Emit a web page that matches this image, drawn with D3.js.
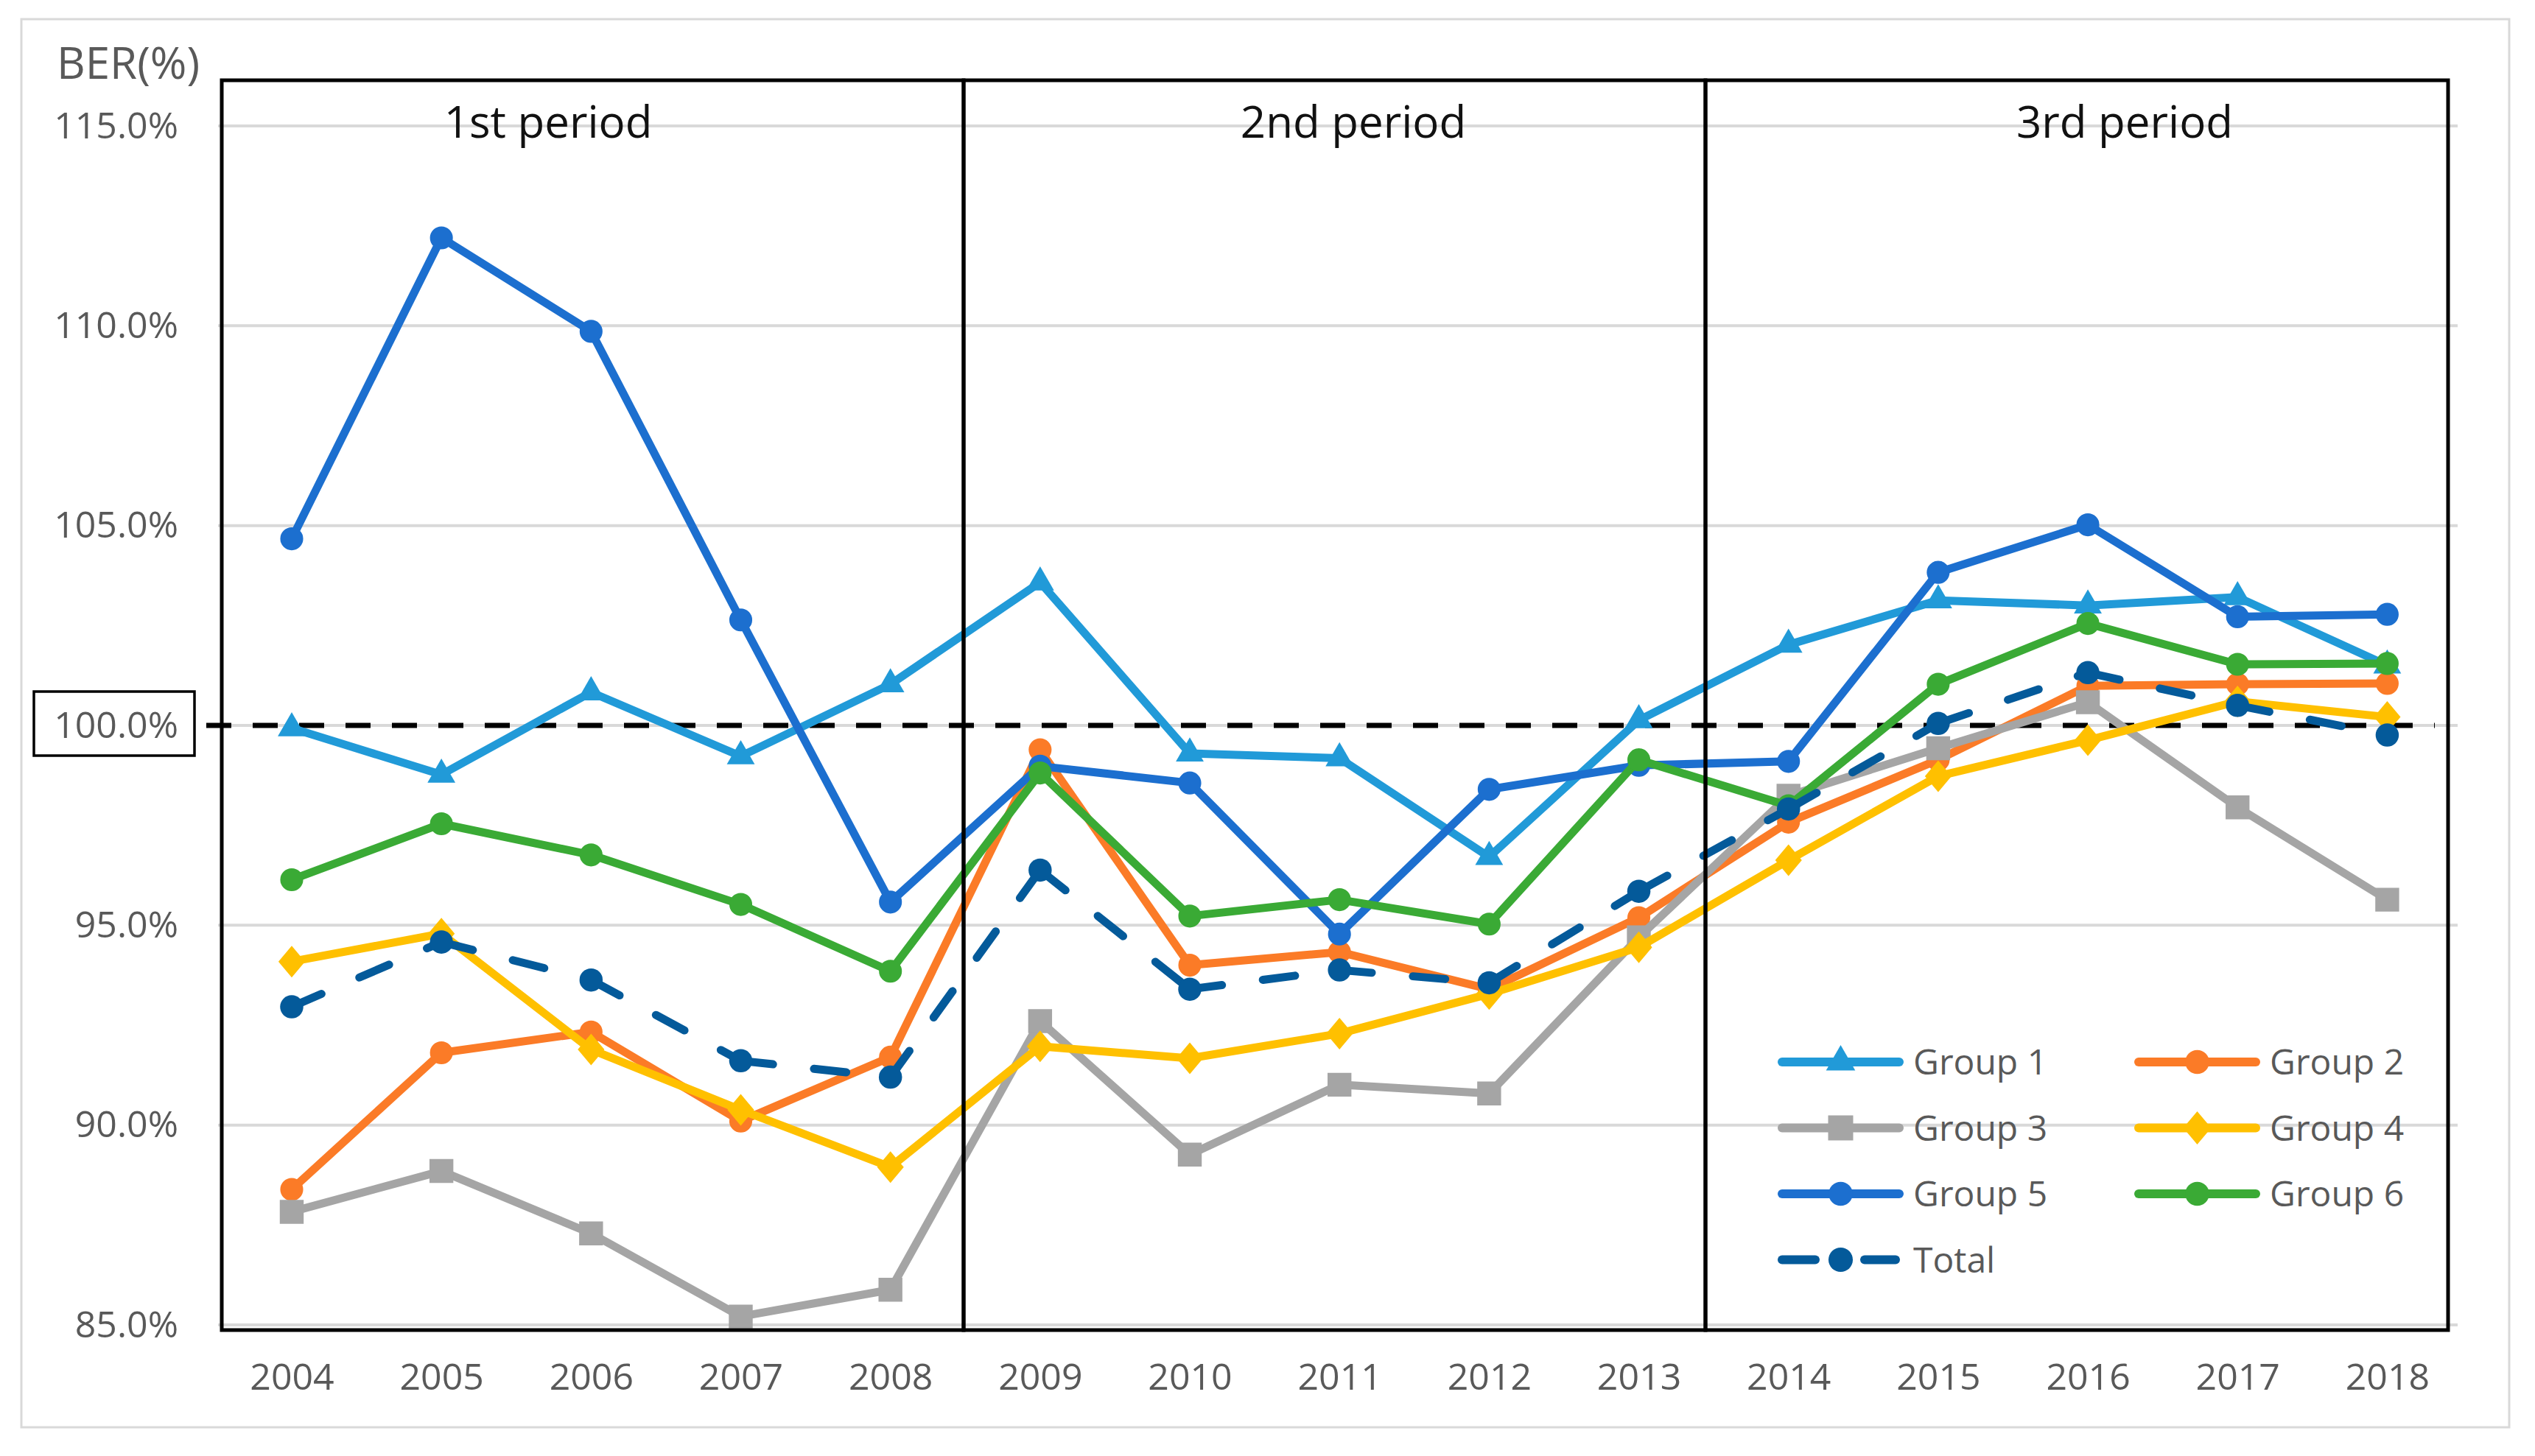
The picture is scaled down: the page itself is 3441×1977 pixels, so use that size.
<!DOCTYPE html>
<html>
<head>
<meta charset="utf-8">
<script src="https://cdn.jsdelivr.net/npm/d3@7"></script>
<style>
  html, body { margin: 0; padding: 0; background: #ffffff; }
  svg { display: block; }
  text { font-family: "Open Sans", "Noto Sans", sans-serif; }
</style>
</head>
<body>
<script>
// ---------------- DATA ----------------
const years = [2004, 2005, 2006, 2007, 2008, 2009, 2010, 2011, 2012, 2013, 2014, 2015, 2016, 2017, 2018];
const group1 = [99.93, 98.77, 100.83, 99.23, 101.03, 103.58, 99.30, 99.18, 96.71, 100.13, 102.02, 103.13, 103.00, 103.21, 101.50];
const group2 = [88.39, 91.81, 92.33, 90.10, 91.70, 99.39, 94.00, 94.33, 93.40, 95.19, 97.58, 99.14, 100.99, 101.03, 101.05];
const group3 = [87.83, 88.85, 87.29, 85.21, 85.88, 92.60, 89.26, 91.01, 90.79, 94.70, 98.24, 99.43, 100.58, 97.95, 95.64];
const group4 = [94.09, 94.79, 91.89, 90.38, 88.95, 91.97, 91.67, 92.29, 93.28, 94.45, 96.63, 98.73, 99.63, 100.60, 100.21];
const group5 = [104.67, 112.20, 109.86, 102.64, 95.58, 98.98, 98.56, 94.78, 98.40, 99.00, 99.10, 103.83, 105.02, 102.72, 102.78];
const group6 = [96.14, 97.54, 96.76, 95.52, 93.85, 98.81, 95.23, 95.64, 95.03, 99.14, 97.99, 101.03, 102.55, 101.53, 101.55];
const total  = [92.96, 94.58, 93.63, 91.61, 91.20, 96.38, 93.40, 93.88, 93.56, 95.85, 97.91, 100.05, 101.32, 100.50, 99.76];
const seriesNames = ["Group 1", "Group 2", "Group 3", "Group 4", "Group 5", "Group 6", "Total"];
const yTicks = [85, 90, 95, 100, 105, 110, 115];
const periodLabels = ["1st period", "2nd period", "3rd period"];
const yAxisTitle = "BER(%)";
const referenceValue = 100;

// ---------------- STYLE / LAYOUT ----------------
const W = 3441, H = 1977;
const colors = ["#219ad8", "#fb7b27", "#a5a5a5", "#ffc000", "#1c6fcf", "#3aaa35", "#045a9a"];
const seriesValues = [group1, group2, group3, group4, group5, group6, total];

const customDiamond = {
  draw(ctx, size) {
    const h = Math.sqrt(size) * 0.78, w = h * 0.84;
    ctx.moveTo(0, -h); ctx.lineTo(w, 0); ctx.lineTo(0, h); ctx.lineTo(-w, 0); ctx.closePath();
  }
};
const markerTypes = [d3.symbolTriangle, d3.symbolCircle, d3.symbolSquare, customDiamond, d3.symbolCircle, d3.symbolCircle, d3.symbolCircle];
const markerSizes = [620, 760, 1050, 760, 760, 760, 780];

const svg = d3.select("body").append("svg")
  .attr("width", W).attr("height", H).attr("viewBox", `0 0 ${W} ${H}`);

svg.append("rect").attr("width", W).attr("height", H).attr("fill", "#ffffff");
// outer chart border
svg.append("rect").attr("x", 29).attr("y", 26).attr("width", 3377).attr("height", 1912)
  .attr("fill", "none").attr("stroke", "#d9d9d9").attr("stroke-width", 3);

const x = d3.scalePoint().domain(years).range([294.4, 3342]).padding(0.5);
const y = d3.scaleLinear().domain([85, 115]).range([1799, 171]);

// gridlines
svg.append("g").selectAll("line").data(yTicks).join("line")
  .attr("x1", 296).attr("x2", 3336)
  .attr("y1", d => y(d)).attr("y2", d => y(d))
  .attr("stroke", "#d9d9d9").attr("stroke-width", 4);

// y axis labels
const yAxis = svg.append("g").attr("transform", "translate(296,0)")
  .call(d3.axisLeft(y).tickValues(yTicks).tickSize(0).tickPadding(54).tickFormat(d => d.toFixed(1) + "%"));
yAxis.select(".domain").remove();
yAxis.selectAll("text").attr("font-size", 50).attr("fill", "#595959")
  .attr("font-family", "'Open Sans', sans-serif");

// x axis labels
const xAxis = svg.append("g").attr("transform", "translate(0,1806)")
  .call(d3.axisBottom(x).tickSize(0).tickPadding(45));
xAxis.select(".domain").remove();
xAxis.selectAll("text").attr("font-size", 50).attr("fill", "#595959")
  .attr("font-family", "'Open Sans', sans-serif");

// axis title
svg.append("text").attr("x", 77).attr("y", 107).attr("font-size", 60).attr("fill", "#595959").text(yAxisTitle);

// box around 100.0% label
svg.append("rect").attr("x", 46).attr("y", 939).attr("width", 218).attr("height", 87)
  .attr("fill", "none").attr("stroke", "#000").attr("stroke-width", 3.5);

// dashed 100% reference line
svg.append("line").attr("x1", 280).attr("x2", 3305)
  .attr("y1", y(referenceValue)).attr("y2", y(referenceValue))
  .attr("stroke", "#000").attr("stroke-width", 7).attr("stroke-dasharray", "34 29");

// series
const line = d3.line().x((d, i) => x(years[i])).y(d => y(d));
seriesValues.forEach((vals, s) => {
  const g = svg.append("g");
  if (seriesNames[s] === "Total") {
    // dashed; pattern restarts at each segment
    const segs = d3.pairs(vals.map((v, i) => [x(years[i]), y(v)]));
    g.selectAll("line").data(segs).join("line")
      .attr("x1", d => d[0][0]).attr("y1", d => d[0][1])
      .attr("x2", d => d[1][0]).attr("y2", d => d[1][1])
      .attr("stroke", colors[s]).attr("stroke-width", 11)
      .attr("stroke-linecap", "round").attr("stroke-dasharray", "44 56");
  } else {
    g.append("path").attr("d", line(vals)).attr("fill", "none")
      .attr("stroke", colors[s]).attr("stroke-width", 11).attr("stroke-linejoin", "round");
  }
  g.selectAll("path.m").data(vals).join("path").attr("class", "m")
    .attr("transform", (d, i) => `translate(${x(years[i])},${y(d)})`)
    .attr("d", d3.symbol().type(markerTypes[s]).size(markerSizes[s]))
    .attr("fill", colors[s]);
});

// period frames
const frames = [[301, 1308], [1308, 2315], [2315, 3323]];
svg.append("g").selectAll("rect").data(frames).join("rect")
  .attr("x", d => d[0]).attr("y", 109).attr("width", d => d[1] - d[0]).attr("height", 1806 - 109)
  .attr("fill", "none").attr("stroke", "#000").attr("stroke-width", 5);

const labelX = [744, 1837, 2884];
svg.append("g").selectAll("text").data(periodLabels).join("text")
  .attr("x", (d, i) => labelX[i]).attr("y", 187).attr("text-anchor", "middle")
  .attr("font-size", 60).attr("fill", "#111111").text(d => d);

// legend
const legCols = [2413, 2897], legRow0 = 1442, legRowStep = 89.5, legLen = 171;
seriesNames.forEach((name, s) => {
  const cx = legCols[s % 2], cy = legRow0 + Math.floor(s / 2) * legRowStep;
  const g = svg.append("g");
  if (name === "Total") {
    g.append("line").attr("x1", cx + 6).attr("x2", cx + 51).attr("y1", cy).attr("y2", cy)
      .attr("stroke", colors[s]).attr("stroke-width", 12).attr("stroke-linecap", "round");
    g.append("line").attr("x1", cx + 118).attr("x2", cx + 160).attr("y1", cy).attr("y2", cy)
      .attr("stroke", colors[s]).attr("stroke-width", 12).attr("stroke-linecap", "round");
  } else {
    g.append("line").attr("x1", cx + 6).attr("x2", cx + legLen - 6).attr("y1", cy).attr("y2", cy)
      .attr("stroke", colors[s]).attr("stroke-width", 12).attr("stroke-linecap", "round");
  }
  g.append("path").attr("transform", `translate(${cx + legLen / 2},${cy})`)
    .attr("d", d3.symbol().type(markerTypes[s]).size(markerSizes[s] * 1.1)).attr("fill", colors[s]);
  g.append("text").attr("x", cx + 184).attr("y", cy).attr("dy", "0.36em")
    .attr("font-size", 48).attr("fill", "#595959").text(name);
});
</script>
</body>
</html>
